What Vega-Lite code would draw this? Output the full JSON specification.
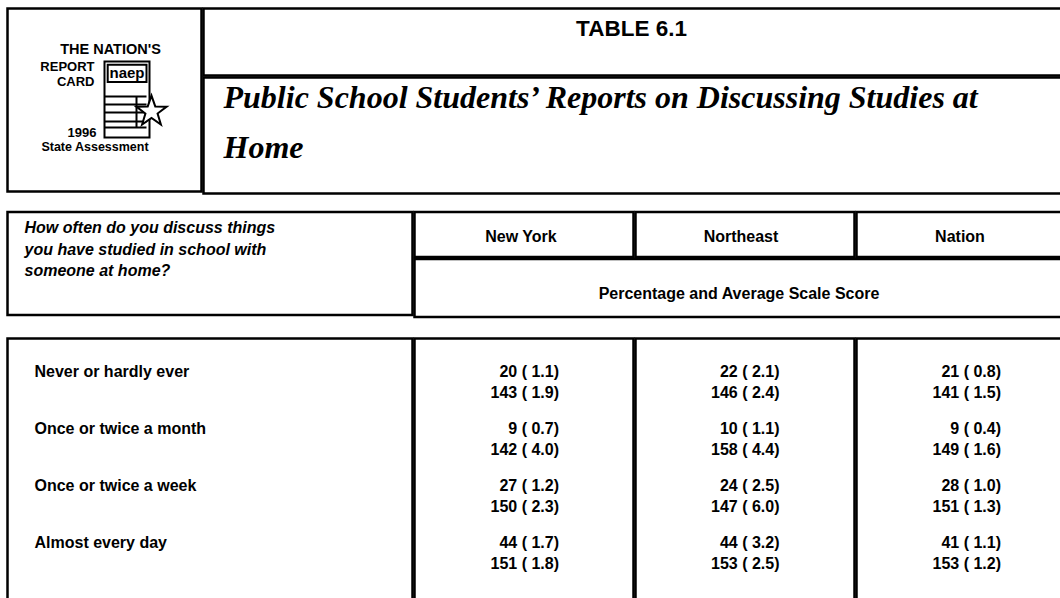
{
  "$schema": "https://vega.github.io/schema/vega-lite/v6.json",
  "background": "white",
  "padding": {"left": 5.5, "top": 6.5, "right": 0, "bottom": 0},
  "config": {
    "view": {"stroke": "black", "strokeWidth": 2.5},
    "font": "Liberation Sans",
    "text": {"font": "Liberation Sans", "fontWeight": "bold", "fontSize": 16, "color": "black", "baseline": "middle"}
  },
  "datasets": {
    "rows": [
      {"answer": "Never or hardly ever", "region": "New York", "pct": 20, "pct_se": 1.1, "score": 143, "score_se": 1.9},
      {"answer": "Once or twice a month", "region": "New York", "pct": 9, "pct_se": 0.7, "score": 142, "score_se": 4.0},
      {"answer": "Once or twice a week", "region": "New York", "pct": 27, "pct_se": 1.2, "score": 150, "score_se": 2.3},
      {"answer": "Almost every day", "region": "New York", "pct": 44, "pct_se": 1.7, "score": 151, "score_se": 1.8},
      {"answer": "Never or hardly ever", "region": "Northeast", "pct": 22, "pct_se": 2.1, "score": 146, "score_se": 2.4},
      {"answer": "Once or twice a month", "region": "Northeast", "pct": 10, "pct_se": 1.1, "score": 158, "score_se": 4.4},
      {"answer": "Once or twice a week", "region": "Northeast", "pct": 24, "pct_se": 2.5, "score": 147, "score_se": 6.0},
      {"answer": "Almost every day", "region": "Northeast", "pct": 44, "pct_se": 3.2, "score": 153, "score_se": 2.5},
      {"answer": "Never or hardly ever", "region": "Nation", "pct": 21, "pct_se": 0.8, "score": 141, "score_se": 1.5},
      {"answer": "Once or twice a month", "region": "Nation", "pct": 9, "pct_se": 0.4, "score": 149, "score_se": 1.6},
      {"answer": "Once or twice a week", "region": "Nation", "pct": 28, "pct_se": 1.0, "score": 151, "score_se": 1.3},
      {"answer": "Almost every day", "region": "Nation", "pct": 41, "pct_se": 1.1, "score": 153, "score_se": 1.2}
    ]
  },
  "vconcat": [
    {
      "hconcat": [
        {
          "width": 194, "height": 183,
          "data": {"values": [{}]},
          "encoding": {"y": {"datum": "c", "type": "nominal", "scale": {"type": "point", "domain": ["c"]}, "axis": null}},
          "layer": [
            {"mark": {"type": "text", "text": "THE NATION'S", "fontSize": 14.5, "dx": 6, "dy": -50.5}},
            {"mark": {"type": "text", "text": "REPORT", "fontSize": 13, "align": "right", "dx": -10, "dy": -33}},
            {"mark": {"type": "text", "text": "CARD", "fontSize": 13, "align": "right", "dx": -10, "dy": -18.5}},
            {"mark": {"type": "text", "text": "1996", "fontSize": 13, "align": "right", "dx": -8, "dy": 33}},
            {"mark": {"type": "text", "text": "State Assessment", "fontSize": 12.5, "dx": -9.5, "dy": 47}},
            {"mark": {"type": "point", "shape": "M0,-0.9625H1.125V0.9375H0Z M0.08,-0.88H1.05V-0.45H0.08Z M0,-0.0875H1.05 M0,0.1125H1.05 M0,0.3125H1.05 M0,0.5375H1.05 M0,0.6875H1.05 M0.8,-0.0875V0.6875", "size": 6400, "filled": false, "stroke": "black", "strokeWidth": 2, "opacity": 1}},
            {"mark": {"type": "text", "text": "naep", "fontSize": 15, "dx": 22.5, "dy": -27.5}},
            {"mark": {"type": "point", "shape": "M1.175,-0.11L1.269,0.161L1.555,0.166L1.327,0.339L1.41,0.614L1.175,0.45L0.94,0.614L1.023,0.339L0.795,0.166L1.081,0.161Z", "size": 6400, "filled": true, "fill": "white", "stroke": "black", "strokeWidth": 2, "opacity": 1}}
          ]
        },
        {
          "vconcat": [
            {
              "width": 868, "height": 67,
              "data": {"values": [{}]},
              "encoding": {"y": {"datum": "c", "type": "nominal", "scale": {"type": "point", "domain": ["c"]}, "axis": null}},
              "mark": {"type": "text", "text": "TABLE 6.1", "fontSize": 22.5, "dx": -6, "dy": -13.5}
            },
            {
              "width": 868, "height": 116,
              "data": {"values": [{}]},
              "encoding": {"y": {"datum": "c", "type": "nominal", "scale": {"type": "point", "domain": ["c"]}, "axis": null}},
              "layer": [
                {"mark": {"type": "text", "text": "Public School Students’ Reports on Discussing Studies at", "font": "Liberation Serif", "fontStyle": "italic", "fontWeight": "bold", "fontSize": 32, "align": "left", "dx": -414, "dy": -38}},
                {"mark": {"type": "text", "text": "Home", "font": "Liberation Serif", "fontStyle": "italic", "fontWeight": "bold", "fontSize": 32, "align": "left", "dx": -414, "dy": 12}}
              ]
            }
          ],
          "spacing": -5.5
        }
      ],
      "spacing": -5.5
    },
    {
      "vconcat": [
        {
          "hconcat": [
            {
              "width": 405, "height": 103,
              "data": {"values": [{}]},
              "encoding": {"y": {"datum": "c", "type": "nominal", "scale": {"type": "point", "domain": ["c"]}, "axis": null}},
              "layer": [
                {"mark": {"type": "text", "text": "How often do you discuss things", "fontStyle": "italic", "align": "left", "dx": -185.5, "dy": -35.5}},
                {"mark": {"type": "text", "text": "you have studied in school with", "fontStyle": "italic", "align": "left", "dx": -185.5, "dy": -14}},
                {"mark": {"type": "text", "text": "someone at home?", "fontStyle": "italic", "align": "left", "dx": -185.5, "dy": 7.5}}
              ]
            },
            {
              "vconcat": [
                {
                  "hconcat": [
                    {"width": 219, "height": 45, "data": {"values": [{}]}, "encoding": {"y": {"datum": "c", "type": "nominal", "scale": {"type": "point", "domain": ["c"]}, "axis": null}}, "mark": {"type": "text", "text": "New York", "dx": -3, "dy": 2.5}},
                    {"width": 219, "height": 45, "data": {"values": [{}]}, "encoding": {"y": {"datum": "c", "type": "nominal", "scale": {"type": "point", "domain": ["c"]}, "axis": null}}, "mark": {"type": "text", "text": "Northeast", "dx": -4, "dy": 2.5}},
                    {"width": 219, "height": 45, "data": {"values": [{}]}, "encoding": {"y": {"datum": "c", "type": "nominal", "scale": {"type": "point", "domain": ["c"]}, "axis": null}}, "mark": {"type": "text", "text": "Nation", "dx": -6, "dy": 2.5}}
                  ],
                  "spacing": -5.5
                },
                {"width": 657, "height": 58, "data": {"values": [{}]}, "encoding": {"y": {"datum": "c", "type": "nominal", "scale": {"type": "point", "domain": ["c"]}, "axis": null}}, "mark": {"type": "text", "text": "Percentage and Average Scale Score", "dx": -4, "dy": 6}}
              ],
              "spacing": -5.5
            }
          ],
          "spacing": -5.5
        },
        {
          "hconcat": [
            {
              "width": 405, "height": 280,
              "data": {"name": "rows"},
              "transform": [{"filter": "datum.region === 'New York'"}],
              "mark": {"type": "text", "align": "left", "dx": -175.5, "dy": -10.5},
              "encoding": {
                "y": {"field": "answer", "type": "nominal", "sort": null, "scale": {"type": "point", "domain": ["Never or hardly ever", "Once or twice a month", "Once or twice a week", "Almost every day"], "padding": 0.956, "align": 0.408}, "axis": null},
                "text": {"field": "answer"}
              }
            },
            {
              "width": 219, "height": 280,
              "data": {"name": "rows"},
              "transform": [{"filter": "datum.region === 'New York'"}],
              "encoding": {
                "y": {"field": "answer", "type": "nominal", "sort": null, "scale": {"type": "point", "domain": ["Never or hardly ever", "Once or twice a month", "Once or twice a week", "Almost every day"], "padding": 0.956, "align": 0.408}, "axis": null}
              },
              "layer": [
                {"mark": {"type": "text", "align": "right", "dx": 35, "dy": -10.5, "text": {"expr": "datum.pct + ' ( ' + format(datum.pct_se, '.1f') + ')'"}}},
                {"mark": {"type": "text", "align": "right", "dx": 35, "dy": 10.5, "text": {"expr": "datum.score + ' ( ' + format(datum.score_se, '.1f') + ')'"}}}
              ]
            },
            {
              "width": 219, "height": 280,
              "data": {"name": "rows"},
              "transform": [{"filter": "datum.region === 'Northeast'"}],
              "encoding": {
                "y": {"field": "answer", "type": "nominal", "sort": null, "scale": {"type": "point", "domain": ["Never or hardly ever", "Once or twice a month", "Once or twice a week", "Almost every day"], "padding": 0.956, "align": 0.408}, "axis": null}
              },
              "layer": [
                {"mark": {"type": "text", "align": "right", "dx": 34.5, "dy": -10.5, "text": {"expr": "datum.pct + ' ( ' + format(datum.pct_se, '.1f') + ')'"}}},
                {"mark": {"type": "text", "align": "right", "dx": 34.5, "dy": 10.5, "text": {"expr": "datum.score + ' ( ' + format(datum.score_se, '.1f') + ')'"}}}
              ]
            },
            {
              "width": 219, "height": 280,
              "data": {"name": "rows"},
              "transform": [{"filter": "datum.region === 'Nation'"}],
              "encoding": {
                "y": {"field": "answer", "type": "nominal", "sort": null, "scale": {"type": "point", "domain": ["Never or hardly ever", "Once or twice a month", "Once or twice a week", "Almost every day"], "padding": 0.956, "align": 0.408}, "axis": null}
              },
              "layer": [
                {"mark": {"type": "text", "align": "right", "dx": 35, "dy": -10.5, "text": {"expr": "datum.pct + ' ( ' + format(datum.pct_se, '.1f') + ')'"}}},
                {"mark": {"type": "text", "align": "right", "dx": 35, "dy": 10.5, "text": {"expr": "datum.score + ' ( ' + format(datum.score_se, '.1f') + ')'"}}}
              ]
            }
          ],
          "spacing": -5.5
        }
      ],
      "spacing": 17.5
    }
  ],
  "spacing": 14.5
}
